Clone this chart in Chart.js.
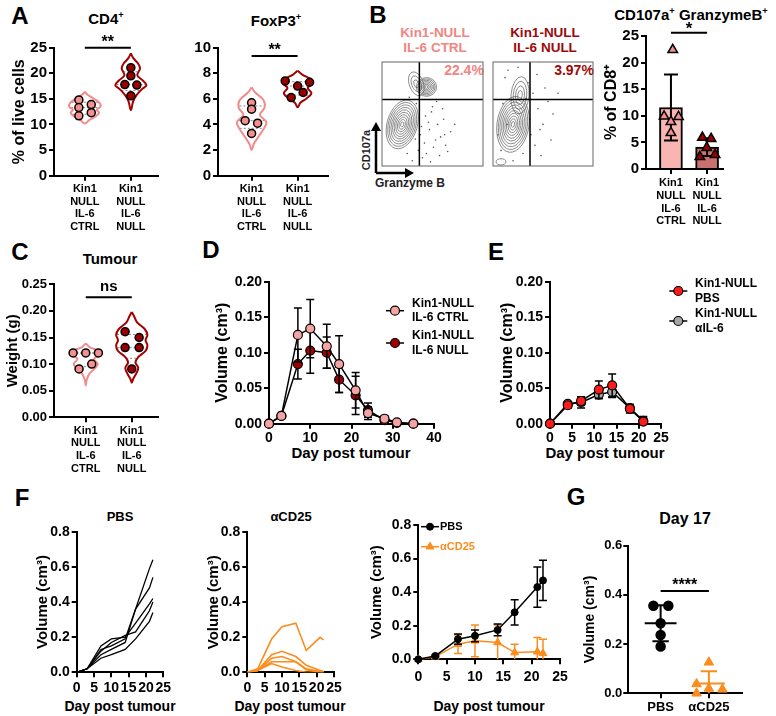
<!DOCTYPE html>
<html>
<head>
<meta charset="utf-8">
<script src="https://cdn.jsdelivr.net/npm/chart.js@4.4.1/dist/chart.umd.min.js"></script>
<style>
  body { margin: 0; background: #fff; }
  #page { position: relative; width: 776px; height: 716px; overflow: hidden; background: #fff;
          font-family: "Liberation Sans", Arial, sans-serif; font-weight: bold; color: #000; }
  .cv { position: absolute; }
  .t { position: absolute; transform: translate(-50%, -50%); white-space: nowrap; line-height: 1; }
  .t sup { font-size: 0.62em; vertical-align: 0.6em; line-height: 0; }
  .letter { font-size: 24px; }
  .ttl { font-size: 15px; }
</style>
</head>
<body>
<div id="page">
  <div class="t letter" style="left:20px;top:16px">A</div>
  <div class="t letter" style="left:378px;top:15px">B</div>
  <div class="t letter" style="left:20px;top:252px">C</div>
  <div class="t letter" style="left:211px;top:250px">D</div>
  <div class="t letter" style="left:496px;top:252px">E</div>
  <div class="t letter" style="left:22px;top:498px">F</div>
  <div class="t letter" style="left:576px;top:497px">G</div>

  <div class="t ttl" style="left:106px;top:18px">CD4<sup>+</sup></div>
  <div class="t ttl" style="left:276px;top:20px">FoxP3<sup>+</sup></div>
  <div class="t ttl" style="left:691px;top:14px">CD107a<sup>+</sup> GranzymeB<sup>+</sup></div>
  <div class="t ttl" style="left:110px;top:258px">Tumour</div>
  <div class="t" style="left:120px;top:516px;font-size:13px">PBS</div>
  <div class="t" style="left:291px;top:516px;font-size:13px">αCD25</div>
  <div class="t" style="left:685px;top:519px;font-size:16px">Day 17</div>

  <div class="t" style="left:351px;top:452px;font-size:15px">Day post tumour</div>
  <div class="t" style="left:605px;top:452px;font-size:15px">Day post tumour</div>
  <div class="t" style="left:120px;top:706px;font-size:14px">Day post tumour</div>
  <div class="t" style="left:290px;top:706px;font-size:14px">Day post tumour</div>
  <div class="t" style="left:489px;top:706px;font-size:14px">Day post tumour</div>

  <div class="t" style="left:435px;top:33px;font-size:13.5px;color:#f08582">Kin1-NULL</div>
  <div class="t" style="left:435px;top:48px;font-size:13.5px;color:#f08582">IL-6 CTRL</div>
  <div class="t" style="left:545px;top:33px;font-size:13.5px;color:#9b0a0a">Kin1-NULL</div>
  <div class="t" style="left:545px;top:48px;font-size:13.5px;color:#9b0a0a">IL-6 NULL</div>
  <div class="t" style="left:464px;top:70px;font-size:14px;color:#f08582">22.4%</div>
  <div class="t" style="left:574px;top:70px;font-size:14px;color:#9b0a0a">3.97%</div>
  <div class="t" style="left:366px;top:150px;font-size:11px;color:#222;transform:translate(-50%,-50%) rotate(-90deg)">CD107a</div>
  <div class="t" style="left:410px;top:183px;font-size:12px;color:#222">Granzyme B</div>
</div>

<script>
// ---------- data ----------
const groupLabels = [['Kin1', 'NULL', 'IL-6', 'CTRL'], ['Kin1', 'NULL', 'IL-6', 'NULL']];

// A: % of live cells
const cd4Ticks = [0, 5, 10, 15, 20, 25];
const cd4Ctrl = [14.8, 13.3, 11.7, 13.9, 12.3];
const cd4Null = [21.1, 19.5, 17.8, 17.7, 15.6];
const foxTicks = [0, 2, 4, 6, 8, 10];
const foxCtrl = [5.7, 5.2, 4.3, 4.1, 3.3];
const foxNull = [7.4, 7.3, 7.0, 6.5, 6.1];

// violin outlines: [value, half width]
const cd4CtrlViolin = [[16.4, 0], [15.8, 0.06], [15.0, 0.2], [14.2, 0.32], [13.5, 0.34], [12.9, 0.26], [12.3, 0.31], [11.6, 0.24], [10.9, 0.1], [10.2, 0]];
const cd4NullViolin = [[23.9, 0], [23.0, 0.05], [22.0, 0.15], [21.0, 0.2], [19.6, 0.14], [18.6, 0.26], [17.7, 0.34], [16.9, 0.24], [15.7, 0.12], [14.5, 0.05], [12.8, 0]];
const foxCtrlViolin = [[6.9, 0], [6.5, 0.08], [5.9, 0.26], [5.3, 0.28], [4.75, 0.18], [4.2, 0.32], [3.7, 0.27], [3.1, 0.16], [2.5, 0.05], [2.0, 0]];
const foxNullViolin = [[8.2, 0], [7.9, 0.1], [7.5, 0.3], [7.2, 0.32], [6.85, 0.22], [6.45, 0.3], [6.05, 0.2], [5.7, 0.06], [5.35, 0]];

// B: flow plots (plot units 0-100) and % of CD8+
const flowGate = [37, 64];
const ctrlPops = [[20, 40, 15, 24, 16, 10], [44, 76, 10, 9, 0, 7], [34, 79, 7, 12, -20, 3]];
const nullPops = [[20, 40, 16, 27, 8, 10], [27, 68, 9, 18, 5, 4], [8, 4, 5, 3, 0, 1]];
const ctrlEventsX = [38, 42, 47, 51, 55, 44, 58, 61, 40, 49, 53, 36, 63, 46, 57, 34, 68, 30, 27, 50, 60, 65, 43, 33, 72, 25, 54, 39, 48, 62];
const ctrlEventsY = [30, 22, 35, 18, 40, 12, 28, 45, 8, 52, 25, 15, 20, 42, 10, 60, 33, 5, 66, 57, 55, 14, 48, 26, 40, 12, 62, 38, 4, 30];
const nullEventsX = [8, 12, 40, 45, 50, 15, 38, 55, 42, 35, 60, 48, 10, 30, 52, 20, 44, 5, 58, 37, 25, 47, 14, 33, 65];
const nullEventsY = [15, 85, 70, 55, 40, 92, 30, 62, 20, 80, 50, 10, 60, 12, 75, 5, 88, 30, 25, 45, 95, 35, 40, 65, 70];
const cd8Ticks = [0, 5, 10, 15, 20, 25];
const cd8Ctrl = [22.4, 9.9, 9.8, 8.9, 6.8];
const cd8Null = [5.9, 5.7, 4.0, 2.7, 2.3];

// C: tumour weight (g)
const weightTicks = [0, 0.05, 0.10, 0.15, 0.20, 0.25];
const weightCtrl = [0.121, 0.121, 0.121, 0.091, 0.100];
const weightNull = [0.161, 0.150, 0.131, 0.131, 0.091];
const weightCtrlViolin = [[0.139, 0], [0.132, 0.08], [0.124, 0.3], [0.118, 0.32], [0.11, 0.18], [0.1, 0.26], [0.092, 0.2], [0.082, 0.08], [0.07, 0.02], [0.06, 0]];
const weightNullViolin = [[0.198, 0], [0.19, 0.05], [0.178, 0.12], [0.166, 0.28], [0.155, 0.34], [0.145, 0.3], [0.135, 0.34], [0.125, 0.3], [0.113, 0.14], [0.103, 0.08], [0.093, 0.14], [0.083, 0.1], [0.072, 0.03], [0.065, 0]];

// D: volume (cm3), mean and SEM
const volTicks = [0, 0.05, 0.10, 0.15, 0.20];
const dDayTicks = [0, 10, 20, 30, 40];
const dDays = [0, 3, 7, 10, 14, 17, 21, 24, 28, 31, 35];
const dCtrl = [0, 0.011, 0.125, 0.134, 0.109, 0.084, 0.047, 0.015, 0.007, 0.002, 0];
const dCtrlErr = [0, 0.002, 0.038, 0.041, 0.031, 0.040, 0.025, 0.009, 0.004, 0.001, 0];
const dNull = [0, 0.011, 0.084, 0.103, 0.100, 0.062, 0.040, 0.019, 0.005, 0.001, 0];
const dNullErr = [0, 0.002, 0.021, 0.032, 0.022, 0.018, 0.027, 0.010, 0.004, 0.001, 0];

// E
const eDayTicks = [0, 5, 10, 15, 20, 25];
const eDays = [0, 4, 7, 11, 14, 18, 21];
const ePbs = [0, 0.026, 0.032, 0.048, 0.054, 0.021, 0.003];
const ePbsErr = [0, 0.004, 0.006, 0.012, 0.016, 0.006, 0.007];
const eAntiIl6 = [0, 0.028, 0.030, 0.041, 0.045, 0.022, 0.004];
const eAntiIl6Err = [0, 0.003, 0.008, 0.006, 0.008, 0.005, 0.005];

// F: single mice and group means
const fVolTicks = [0, 0.2, 0.4, 0.6, 0.8];
const fDayTicks = [0, 5, 10, 15, 20, 25];
const fDays = [0, 3, 7, 10, 14, 17, 21, 22];
const pbsMouse1 = [0, 0.02, 0.13, 0.15, 0.19, 0.36, 0.59, 0.64];
const pbsMouse2 = [0, 0.02, 0.10, 0.13, 0.17, 0.36, 0.48, 0.54];
const pbsMouse3 = [0, 0.02, 0.15, 0.19, 0.20, 0.28, 0.39, 0.42];
const pbsMouse4 = [0, 0.02, 0.12, 0.17, 0.21, 0.23, 0.35, 0.40];
const pbsMouse5 = [0, 0.02, 0.08, 0.10, 0.13, 0.19, 0.29, 0.34];
const cd25Mouse1 = [0, 0.02, 0.19, 0.26, 0.28, 0.125, 0.20, 0.185];
const cd25Mouse2 = [0, 0.01, 0.10, 0.12, 0.09, 0.04, 0.01, 0.005];
const cd25Mouse3 = [0, 0.01, 0.08, 0.09, 0.06, 0.02, 0.005, 0];
const cd25Mouse4 = [0, 0.01, 0.06, 0.06, 0.06, 0.015, 0, 0];
const cd25Mouse5 = [0, 0.01, 0.05, 0.03, 0.01, 0, 0, 0];
const pbsMean = [0, 0.02, 0.12, 0.14, 0.175, 0.28, 0.43, 0.47];
const pbsErr = [0, 0.005, 0.03, 0.035, 0.035, 0.075, 0.12, 0.12];
const cd25Mean = [0, 0.015, 0.09, 0.11, 0.10, 0.04, 0.045, 0.035];
const cd25Err = [0, 0.005, 0.055, 0.095, 0.105, 0.05, 0.085, 0.085];

// G: day 17
const gLabels = ['PBS', 'αCD25'];
const gTicks = [0, 0.2, 0.4, 0.6];
const gPbs = [0.356, 0.356, 0.285, 0.237, 0.19];
const gCd25 = [0.126, 0.038, 0.02, 0.016, 0];

// horizontal spread of dots inside a group (layout only)
const cd4CtrlJit = [-0.13, -0.13, -0.13, 0.14, 0.14];
const cd4NullJit = [0, 0, -0.13, 0.13, 0];
const foxCtrlJit = [0, 0, -0.14, 0.13, 0];
const foxNullJit = [-0.27, 0.26, 0, 0.12, -0.14];
const cd8CtrlJit = [0.05, -0.19, 0.21, 0, 0];
const cd8NullJit = [-0.13, 0.11, -0.01, 0.22, -0.2];
const weightCtrlJit = [-0.275, 0, 0.275, -0.145, 0.13];
const weightNullJit = [-0.145, 0.16, -0.145, 0.16, 0];
const gPbsJit = [-0.15, 0.16, 0, 0, 0];
const gCd25Jit = [0, -0.255, 0, 0.28, -0.255];

// ---------- styles ----------
const FAMILY = '"Liberation Sans", Arial, sans-serif';
const CTRL_FILL = '#f4908e', CTRL_EDGE = '#f28b8b';
const NULL_FILL = '#9b0000', NULL_EDGE = '#a30000';
const ORANGE = '#fb8c1e';
Chart.defaults.font.family = FAMILY;
Chart.defaults.font.weight = 'bold';
Chart.defaults.color = '#000';

const F = (size, lh) => ({size, weight: 'bold', family: FAMILY, lineHeight: lh || 1.2});
const mean = a => a.reduce((s, v) => s + v, 0) / a.length;
const sd = a => { const m = mean(a); return Math.sqrt(a.reduce((s, v) => s + (v - m) ** 2, 0) / (a.length - 1)); };
const xy = (xs, ys) => ys.map((y, i) => ({x: xs[i], y}));

const page = document.getElementById('page');
function canvasAt(left, top, w, h) {
  const c = document.createElement('canvas');
  c.width = w; c.height = h; c.className = 'cv';
  c.style.left = left + 'px'; c.style.top = top + 'px';
  c.style.width = w + 'px'; c.style.height = h + 'px';
  page.appendChild(c);
  return c;
}

function axis(pos, size, lo, hi, ticks, o = {}) {
  return {
    type: 'linear', position: pos, min: lo, max: hi, offset: false,
    afterFit: s => { if (pos === 'left') s.width = size; else s.height = size; },
    afterBuildTicks: s => { s.ticks = ticks.map(v => ({value: v})); },
    border: {color: '#000', width: 2},
    grid: {drawOnChartArea: false, offset: false, color: '#000', lineWidth: 2, tickLength: 5},
    ticks: {font: F(o.fs || 14, o.lh), color: '#000', padding: o.pad ?? 2, autoSkip: false, maxRotation: 0, minRotation: 0,
            callback: o.fmt || (v => v)},
    title: o.title || {display: false}
  };
}
const groupAxis = (size, lo, hi, labels, fs, pad) =>
  axis('bottom', size, lo, hi, [0, 1], {fmt: v => labels[v], fs, pad, lh: 1.15});
const yTitle = (text, fs, cx) => ({display: true, text, color: '#000', font: F(fs), padding: {top: Math.max(cx - fs * 0.6, 0), bottom: 0}});

function base(w, area, scales) {
  return {
    responsive: false, animation: false, events: [],
    layout: {padding: {left: 0, top: area[1], right: w - area[2], bottom: 0}},
    scales,
    plugins: {legend: {display: false}, tooltip: {enabled: false}}
  };
}

function dotSet(vals, jit, c, fill, style) {
  return {data: vals.map((v, i) => ({x: c + jit[i], y: v})), pointRadius: style === 'triangle' ? 5.5 : 4,
          pointStyle: style || 'circle', pointBackgroundColor: fill, pointBorderColor: '#000', pointBorderWidth: 1.5,
          clip: false, order: 0};
}
function violinSet(c, prof, color) {
  const right = prof.map(([y, w]) => ({x: c + w, y}));
  const left = prof.slice(1, -1).reverse().map(([y, w]) => ({x: c - w, y}));
  return {data: [...right, ...left, right[0]], showLine: true, borderColor: color, borderWidth: 2,
          pointRadius: 0, tension: 0.35, fill: false, clip: false, order: 5};
}

// ---------- plugins ----------
function drawErrors(chart, index) {
  const ds = chart.data.datasets[index];
  if (!ds.errors) return;
  const meta = chart.getDatasetMeta(index);
  const ys = chart.scales[meta.yAxisID];
  const ctx = chart.ctx;
  ctx.save();
  ctx.strokeStyle = ds.errorColor || '#000';
  ctx.lineWidth = ds.errorWidth || 1.5;
  meta.data.forEach((el, j) => {
    const e = ds.errors[j];
    if (!e) return;
    const raw = ds.data[j];
    const v = typeof raw === 'object' ? raw.y : raw;
    const top = ys.getPixelForValue(v + e);
    const low = Math.max(v - e, ys.min);
    const bot = ys.getPixelForValue(low);
    const c = ds.errorCap || 4;
    ctx.beginPath();
    ctx.moveTo(el.x, top); ctx.lineTo(el.x, bot);
    ctx.moveTo(el.x - c, top); ctx.lineTo(el.x + c, top);
    if (low > ys.min) { ctx.moveTo(el.x - c, bot); ctx.lineTo(el.x + c, bot); }
    ctx.stroke();
  });
  ctx.restore();
}
Chart.register({
  id: 'errorBars',
  beforeDatasetDraw(chart, args) { if (!chart.data.datasets[args.index].errorsOnTop) drawErrors(chart, args.index); },
  afterDatasetDraw(chart, args) { if (chart.data.datasets[args.index].errorsOnTop) drawErrors(chart, args.index); }
});

function sigBar(level, text, size, lift) {
  return {
    id: 'sigBar',
    afterDraw(chart) {
      const {ctx, scales: {x, y}} = chart;
      const py = y.getPixelForValue(level), x0 = x.getPixelForValue(0), x1 = x.getPixelForValue(1);
      ctx.save();
      ctx.strokeStyle = '#000'; ctx.lineWidth = 2;
      ctx.beginPath(); ctx.moveTo(x0, py); ctx.lineTo(x1, py); ctx.stroke();
      ctx.font = `bold ${size}px ${FAMILY}`; ctx.fillStyle = '#000';
      ctx.textAlign = 'center'; ctx.textBaseline = 'alphabetic';
      ctx.fillText(text, (x0 + x1) / 2, py - lift);
      ctx.restore();
    }
  };
}

function widthAt(prof, v) {
  for (let i = 0; i < prof.length - 1; i++) {
    const [ya, wa] = prof[i], [yb, wb] = prof[i + 1];
    if (v <= ya && v >= yb) return wa + (wb - wa) * (ya - v) / (ya - yb);
  }
  return 0;
}
function quartiles(vals) {
  const s = [...vals].sort((a, b) => a - b), n = s.length;
  const q = p => { const pos = (n + 1) * p - 1, lo = Math.floor(pos), f = pos - lo;
    return s[Math.max(lo, 0)] + (s[Math.min(lo + 1, n - 1)] - s[Math.max(lo, 0)]) * f; };
  return [q(0.25), q(0.5), q(0.75)];
}
function violinLines(groups) {
  return {
    id: 'violinLines',
    beforeDatasetsDraw(chart) {
      const {ctx, scales: {x, y}} = chart;
      ctx.save();
      ctx.strokeStyle = '#8a8a8a'; ctx.lineWidth = 1; ctx.setLineDash([2, 2]);
      groups.forEach(([c, prof, vals]) => {
        quartiles(vals).forEach(v => {
          const w = widthAt(prof, v) * 0.95, py = y.getPixelForValue(v);
          ctx.beginPath(); ctx.moveTo(x.getPixelForValue(c - w), py); ctx.lineTo(x.getPixelForValue(c + w), py); ctx.stroke();
        });
      });
      ctx.restore();
    }
  };
}

function meanSd(groups) {
  return {
    id: 'meanSd',
    beforeDatasetsDraw(chart) {
      const {ctx, scales: {x, y}} = chart;
      ctx.save(); ctx.lineWidth = 2;
      groups.forEach(([c, vals, color]) => {
        const m = mean(vals), s = sd(vals);
        const px = x.getPixelForValue(c), pm = y.getPixelForValue(m);
        const top = y.getPixelForValue(m + s), lowV = Math.max(m - s, y.min), bot = y.getPixelForValue(lowV);
        const wm = x.getPixelForValue(c + 0.33) - px, wc = x.getPixelForValue(c + 0.17) - px;
        ctx.strokeStyle = color;
        ctx.beginPath();
        ctx.moveTo(px - wm, pm); ctx.lineTo(px + wm, pm);
        ctx.moveTo(px, top); ctx.lineTo(px, bot);
        ctx.moveTo(px - wc, top); ctx.lineTo(px + wc, top);
        if (lowV > y.min) { ctx.moveTo(px - wc, bot); ctx.lineTo(px + wc, bot); }
        ctx.stroke();
      });
      ctx.restore();
    }
  };
}

function marker(ctx, style, x, y, r) {
  ctx.beginPath();
  if (style === 'triangle') {
    for (let k = 0; k < 3; k++) {
      const a = k * 2 * Math.PI / 3;
      const px = x + Math.sin(a) * r, py = y - Math.cos(a) * r;
      if (k === 0) ctx.moveTo(px, py); else ctx.lineTo(px, py);
    }
    ctx.closePath();
  } else {
    ctx.arc(x, y, r, 0, 2 * Math.PI);
  }
  ctx.fill(); ctx.stroke();
}
function keyBox(items, size) {
  return {
    id: 'keyBox',
    afterDraw(chart) {
      const ctx = chart.ctx;
      ctx.save();
      items.forEach(it => {
        const ds = chart.data.datasets[it.ds];
        ctx.strokeStyle = ds.borderColor; ctx.lineWidth = 1.5;
        ctx.beginPath(); ctx.moveTo(it.x - 9, it.y); ctx.lineTo(it.x + 9, it.y); ctx.stroke();
        ctx.fillStyle = ds.pointBackgroundColor; ctx.strokeStyle = ds.pointBorderColor; ctx.lineWidth = ds.pointBorderWidth;
        marker(ctx, ds.pointStyle, it.x, it.y, ds.pointRadius);
        ctx.font = `bold ${size}px ${FAMILY}`; ctx.fillStyle = it.color || '#000';
        ctx.textAlign = 'left'; ctx.textBaseline = 'middle';
        const gap = size * 1.2, y0 = it.y - gap * (it.text.length - 1) / 2;
        it.text.forEach((t, k) => ctx.fillText(t, it.tx, y0 + k * gap));
      });
      ctx.restore();
    }
  };
}

function flowPlot(pops, gate, arrow) {
  return {
    id: 'flowPlot',
    beforeDatasetsDraw(chart) {
      const {ctx, chartArea: a, scales: {x, y}} = chart;
      const sx = x.getPixelForValue(1) - x.getPixelForValue(0), sy = y.getPixelForValue(0) - y.getPixelForValue(1);
      ctx.save();
      ctx.beginPath(); ctx.rect(a.left, a.top, a.right - a.left, a.bottom - a.top); ctx.clip();
      ctx.strokeStyle = '#5a5a5a'; ctx.lineWidth = 0.7;
      pops.forEach(([cx, cy, rx, ry, tilt, rings]) => {
        for (let k = 1; k <= rings; k++) {
          const f = k / rings;
          ctx.beginPath();
          ctx.ellipse(x.getPixelForValue(cx), y.getPixelForValue(cy), rx * f * sx, ry * f * sy, tilt * Math.PI / 180, 0, 2 * Math.PI);
          ctx.stroke();
        }
      });
      ctx.restore();
    },
    afterDatasetsDraw(chart) {
      const {ctx, chartArea: a, scales: {x, y}} = chart;
      ctx.save();
      ctx.strokeStyle = '#000'; ctx.lineWidth = 1.5;
      const gx = x.getPixelForValue(gate[0]), gy = y.getPixelForValue(gate[1]);
      ctx.beginPath();
      ctx.moveTo(gx, a.top); ctx.lineTo(gx, a.bottom);
      ctx.moveTo(a.left, gy); ctx.lineTo(a.right, gy);
      ctx.stroke();
      ctx.strokeStyle = '#666'; ctx.lineWidth = 1;
      ctx.strokeRect(a.left, a.top, a.right - a.left, a.bottom - a.top);
      if (arrow) {
        const ox = a.left - 6, oy = a.bottom + 7;
        ctx.strokeStyle = '#000'; ctx.fillStyle = '#000'; ctx.lineWidth = 2.5;
        ctx.beginPath(); ctx.moveTo(ox, oy); ctx.lineTo(ox, a.bottom - 36); ctx.moveTo(ox, oy); ctx.lineTo(a.left + 24, oy); ctx.stroke();
        ctx.beginPath(); ctx.moveTo(ox, a.bottom - 44); ctx.lineTo(ox - 5, a.bottom - 35); ctx.lineTo(ox + 5, a.bottom - 35); ctx.fill();
        ctx.beginPath(); ctx.moveTo(a.left + 32, oy); ctx.lineTo(a.left + 23, oy - 5); ctx.lineTo(a.left + 23, oy + 5); ctx.fill();
      }
      ctx.restore();
    }
  };
}

// ---------- A: CD4+ ----------
(() => {
  const w = 172, h = 240, area = [54, 47.7, 158, 175.7];
  new Chart(canvasAt(0, 0, w, h), {
    type: 'scatter',
    data: {datasets: [
      dotSet(cd4Ctrl, cd4CtrlJit, 0, CTRL_FILL), dotSet(cd4Null, cd4NullJit, 1, NULL_FILL),
      violinSet(0, cd4CtrlViolin, CTRL_EDGE), violinSet(1, cd4NullViolin, NULL_EDGE)
    ]},
    options: base(w, area, {
      x: groupAxis(h - area[3], -0.67, 1.59, groupLabels, 11, 2),
      y: axis('left', area[0], 0, 25, cd4Ticks, {fs: 15, title: yTitle('% of live cells', 16, 20)})
    }),
    plugins: [sigBar(25, '**', 16, 1), violinLines([[0, cd4CtrlViolin, cd4Ctrl], [1, cd4NullViolin, cd4Null]])]
  });
})();

// ---------- A: FoxP3+ ----------
(() => {
  const w = 172, h = 240, area = [46, 47.7, 156, 175.7];
  new Chart(canvasAt(172, 0, w, h), {
    type: 'scatter',
    data: {datasets: [
      dotSet(foxCtrl, foxCtrlJit, 0, CTRL_FILL), dotSet(foxNull, foxNullJit, 1, NULL_FILL),
      violinSet(0, foxCtrlViolin, CTRL_EDGE), violinSet(1, foxNullViolin, NULL_EDGE)
    ]},
    options: base(w, area, {
      x: groupAxis(h - area[3], -0.73, 1.66, groupLabels, 11, 2),
      y: axis('left', area[0], 0, 10, foxTicks, {fs: 15})
    }),
    plugins: [sigBar(9.35, '**', 16, 1), violinLines([[0, foxCtrlViolin, foxCtrl], [1, foxNullViolin, foxNull]])]
  });
})();

// ---------- B: flow plots ----------
(() => {
  const w = 130, h = 125, area = [24, 7, 125, 111];
  new Chart(canvasAt(358, 55, w, h), {
    type: 'scatter',
    data: {datasets: [{data: xy(ctrlEventsX, ctrlEventsY), pointRadius: 0.8, pointBackgroundColor: '#555', pointBorderWidth: 0}]},
    options: {responsive: false, animation: false, events: [],
      layout: {padding: {left: area[0], top: area[1], right: w - area[2], bottom: h - area[3]}},
      scales: {x: {display: false, min: 0, max: 100}, y: {display: false, min: 0, max: 100}},
      plugins: {legend: {display: false}, tooltip: {enabled: false}}},
    plugins: [flowPlot(ctrlPops, flowGate, true)]
  });
})();
(() => {
  const w = 110, h = 120, area = [5, 7, 105, 111];
  new Chart(canvasAt(488, 55, w, h), {
    type: 'scatter',
    data: {datasets: [{data: xy(nullEventsX, nullEventsY), pointRadius: 0.8, pointBackgroundColor: '#555', pointBorderWidth: 0}]},
    options: {responsive: false, animation: false, events: [],
      layout: {padding: {left: area[0], top: area[1], right: w - area[2], bottom: h - area[3]}},
      scales: {x: {display: false, min: 0, max: 100}, y: {display: false, min: 0, max: 100}},
      plugins: {legend: {display: false}, tooltip: {enabled: false}}},
    plugins: [flowPlot(nullPops, flowGate, false)]
  });
})();

// ---------- B: % of CD8+ bars ----------
(() => {
  const w = 186, h = 240, area = [56, 36, 133, 169];
  new Chart(canvasAt(590, 0, w, h), {
    type: 'bar',
    data: {datasets: [
      {type: 'scatter', ...dotSet(cd8Ctrl, cd8CtrlJit, 0, CTRL_FILL, 'triangle')},
      {type: 'scatter', ...dotSet(cd8Null, cd8NullJit, 1, NULL_FILL, 'triangle')},
      {type: 'bar', data: [{x: 0, y: mean(cd8Ctrl)}, {x: 1, y: mean(cd8Null)}],
       backgroundColor: ['#f9b5b2', '#c9716f'], borderColor: '#000', borderWidth: 2, borderSkipped: 'start',
       barThickness: 23, errors: [sd(cd8Ctrl), sd(cd8Null)], errorCap: 7, errorWidth: 2, errorsOnTop: true, order: 2}
    ]},
    options: base(w, area, {
      x: groupAxis(h - area[3], -0.69, 1.44, groupLabels, 11, 3),
      y: axis('left', area[0], 0, 25, cd8Ticks, {fs: 15, title: yTitle('% of CD8⁺', 16, 22)})
    }),
    plugins: [sigBar(25.6, '*', 17, -1)]
  });
})();

// ---------- C: tumour weight ----------
(() => {
  const w = 172, h = 240, area = [54, 44.3, 158, 177.3];
  new Chart(canvasAt(0, 240, w, h), {
    type: 'scatter',
    data: {datasets: [
      dotSet(weightCtrl, weightCtrlJit, 0, CTRL_FILL), dotSet(weightNull, weightNullJit, 1, NULL_FILL),
      violinSet(0, weightCtrlViolin, CTRL_EDGE), violinSet(1, weightNullViolin, NULL_EDGE)
    ]},
    options: base(w, area, {
      x: groupAxis(h - area[3], -0.69, 1.57, groupLabels, 11, 2),
      y: axis('left', area[0], 0, 0.25, weightTicks, {fs: 13, fmt: v => v.toFixed(2), title: yTitle('Weight (g)', 15, 13)})
    }),
    plugins: [sigBar(0.2256, 'ns', 15, 6), violinLines([[0, weightCtrlViolin, weightCtrl], [1, weightNullViolin, weightNull]])]
  });
})();

// ---------- D ----------
(() => {
  const w = 290, h = 240, area = [69, 41.7, 234, 183.7];
  new Chart(canvasAt(200, 240, w, h), {
    type: 'scatter',
    data: {datasets: [
      {data: xy(dDays, dCtrl), showLine: true, borderColor: '#000', borderWidth: 1.5, pointRadius: 4.5, pointStyle: 'circle',
       pointBackgroundColor: '#f5a3a3', pointBorderColor: '#000', pointBorderWidth: 1.2,
       errors: dCtrlErr, errorCap: 4, clip: false, order: 0},
      {data: xy(dDays, dNull), showLine: true, borderColor: '#000', borderWidth: 1.5, pointRadius: 4.5, pointStyle: 'circle',
       pointBackgroundColor: '#a00000', pointBorderColor: '#000', pointBorderWidth: 1.2,
       errors: dNullErr, errorCap: 4, clip: false, order: 1}
    ]},
    options: base(w, area, {
      x: axis('bottom', h - area[3], 0, 40, dDayTicks, {pad: 1}),
      y: axis('left', area[0], 0, 0.2, volTicks, {fmt: v => v.toFixed(2), title: yTitle('Volume (cm³)', 16, 23)})
    }),
    plugins: [keyBox([
      {ds: 0, x: 195, y: 70.7, tx: 212, text: ['Kin1-NULL', 'IL-6 CTRL']},
      {ds: 1, x: 195, y: 103, tx: 212, text: ['Kin1-NULL', 'IL-6 NULL']}
    ], 12)]
  });
})();

// ---------- E ----------
(() => {
  const w = 286, h = 240, area = [60, 41.7, 171, 183.7];
  new Chart(canvasAt(490, 240, w, h), {
    type: 'scatter',
    data: {datasets: [
      {data: xy(eDays, ePbs), showLine: true, borderColor: '#000', borderWidth: 1.5, pointRadius: 4.5, pointStyle: 'circle',
       pointBackgroundColor: '#ff1a1a', pointBorderColor: '#000', pointBorderWidth: 1.2,
       errors: ePbsErr, errorCap: 4, clip: false, order: 0},
      {data: xy(eDays, eAntiIl6), showLine: true, borderColor: '#000', borderWidth: 1.5, pointRadius: 4.5, pointStyle: 'circle',
       pointBackgroundColor: '#a6a6a6', pointBorderColor: '#000', pointBorderWidth: 1.2,
       errors: eAntiIl6Err, errorCap: 4, clip: false, order: 1}
    ]},
    options: base(w, area, {
      x: axis('bottom', h - area[3], 0, 25, eDayTicks, {pad: 1}),
      y: axis('left', area[0], 0, 0.2, volTicks, {fmt: v => v.toFixed(2), title: yTitle('Volume (cm³)', 16, 18)})
    }),
    plugins: [keyBox([
      {ds: 0, x: 188.3, y: 51, tx: 205, text: ['Kin1-NULL', 'PBS']},
      {ds: 1, x: 188.3, y: 81, tx: 205, text: ['Kin1-NULL', 'αIL-6']}
    ], 12)]
  });
})();

// ---------- F: PBS mice ----------
(() => {
  const w = 190, h = 236, area = [76.7, 51.7, 163.3, 192.3];
  const line = vals => ({data: xy(fDays, vals), showLine: true, borderColor: '#000', borderWidth: 1.3, pointRadius: 0});
  new Chart(canvasAt(0, 480, w, h), {
    type: 'scatter',
    data: {datasets: [line(pbsMouse1), line(pbsMouse2), line(pbsMouse3), line(pbsMouse4), line(pbsMouse5)]},
    options: base(w, area, {
      x: axis('bottom', h - area[3], 0, 25, fDayTicks, {pad: 2}),
      y: axis('left', area[0], 0, 0.8, fVolTicks, {fmt: v => v.toFixed(1), title: yTitle('Volume (cm³)', 15, 42.5)})
    })
  });
})();

// ---------- F: aCD25 mice ----------
(() => {
  const w = 172, h = 236, area = [57.3, 52.3, 144, 192.3];
  const line = vals => ({data: xy(fDays, vals), showLine: true, borderColor: ORANGE, borderWidth: 1.6, pointRadius: 0});
  new Chart(canvasAt(190, 480, w, h), {
    type: 'scatter',
    data: {datasets: [line(cd25Mouse1), line(cd25Mouse2), line(cd25Mouse3), line(cd25Mouse4), line(cd25Mouse5)]},
    options: base(w, area, {
      x: axis('bottom', h - area[3], 0, 25, fDayTicks, {pad: 2}),
      y: axis('left', area[0], 0, 0.8, fVolTicks, {fmt: v => v.toFixed(1), title: yTitle('Volume (cm³)', 15, 23.5)})
    })
  });
})();

// ---------- F: group means ----------
(() => {
  const w = 228, h = 236, area = [56.3, 45, 198, 179.3];
  new Chart(canvasAt(362, 480, w, h), {
    type: 'scatter',
    data: {datasets: [
      {data: xy(fDays, pbsMean), showLine: true, borderColor: '#000', borderWidth: 1.5, pointRadius: 3.5, pointStyle: 'circle',
       pointBackgroundColor: '#000', pointBorderColor: '#000', pointBorderWidth: 1,
       errors: pbsErr, errorCap: 4, clip: false, order: 0},
      {data: xy(fDays, cd25Mean), showLine: true, borderColor: ORANGE, borderWidth: 1.5, pointRadius: 4.5, pointStyle: 'triangle',
       pointBackgroundColor: ORANGE, pointBorderColor: ORANGE, pointBorderWidth: 1,
       errors: cd25Err, errorColor: ORANGE, errorCap: 4, clip: false, order: 1}
    ]},
    options: base(w, area, {
      x: axis('bottom', h - area[3], 0, 25, fDayTicks, {pad: 4}),
      y: axis('left', area[0], 0, 0.8, fVolTicks, {fmt: v => v.toFixed(1), title: yTitle('Volume (cm³)', 15, 15)})
    }),
    plugins: [keyBox([
      {ds: 0, x: 68, y: 46.7, tx: 78, text: ['PBS']},
      {ds: 1, x: 68, y: 66.7, tx: 78, text: ['αCD25'], color: ORANGE}
    ], 11)]
  });
})();

// ---------- G: day 17 ----------
(() => {
  const w = 198, h = 236, area = [50.3, 65.7, 163.7, 213.3];
  new Chart(canvasAt(578, 480, w, h), {
    type: 'scatter',
    data: {datasets: [
      {...dotSet(gPbs, gPbsJit, 0, '#000'), pointRadius: 4.5},
      {...dotSet(gCd25, gCd25Jit, 1, ORANGE, 'triangle'), pointBorderColor: ORANGE, pointBorderWidth: 1, pointRadius: 5.5}
    ]},
    options: base(w, area, {
      x: groupAxis(h - area[3], -0.67, 1.68, gLabels, 13, 2),
      y: axis('left', area[0], 0, 0.6, gTicks, {fs: 13, pad: 1, fmt: v => v.toFixed(1), title: yTitle('Volume (cm³)', 14, 12)})
    }),
    plugins: [sigBar(0.416, '****', 16, 1), meanSd([[0, gPbs, '#000'], [1, gCd25, ORANGE]])]
  });
})();
</script>
</body>
</html>
